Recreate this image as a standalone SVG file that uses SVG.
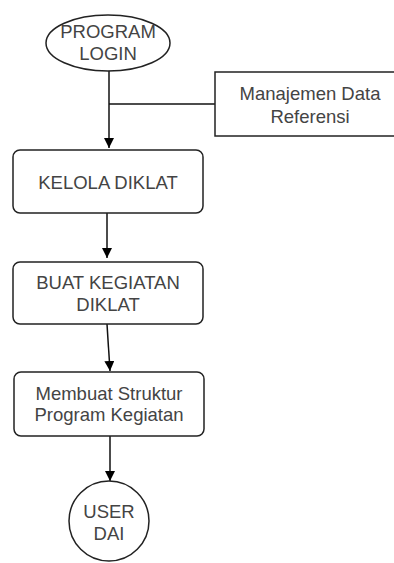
<svg xmlns="http://www.w3.org/2000/svg" width="394" height="563" viewBox="0 0 394 563">
<defs>
<marker id="arr" viewBox="0 0 10 10" refX="10" refY="5" markerWidth="10" markerHeight="10" markerUnits="userSpaceOnUse" orient="auto">
<path d="M0,0 L10,5 L0,10 z" fill="#000"/>
</marker>
<style>
.shape{fill:#fff;stroke:#222;stroke-width:1.5}
.t{font-family:"Liberation Sans",Arial,sans-serif;font-size:18.5px;fill:#444;text-anchor:middle}
.c{fill:none;stroke:#111;stroke-width:1.5}
</style>
</defs>
<rect width="394" height="563" fill="#fff"/>
<g id="connectors">
<path class="c" d="M109,71 V148" marker-end="url(#arr)"/>
<path class="c" d="M109,104 H215"/>
<path class="c" d="M107,213 V258" marker-end="url(#arr)"/>
<path class="c" d="M107,324 L110,371" marker-end="url(#arr)"/>
<path class="c" d="M110,436 V481" marker-end="url(#arr)"/>
</g>
<g id="program-login">
<ellipse class="shape" cx="108" cy="43" rx="62" ry="28"/>
<text class="t" x="108" y="38">PROGRAM</text>
<text class="t" x="108" y="60">LOGIN</text>
</g>
<g id="manajemen-data">
<rect class="shape" x="215" y="72" width="185" height="64"/>
<text class="t" x="310" y="100">Manajemen Data</text>
<text class="t" x="310" y="123">Referensi</text>
</g>
<g id="kelola-diklat">
<rect class="shape" x="13" y="150" width="190" height="63" rx="7"/>
<text class="t" x="108" y="189">KELOLA DIKLAT</text>
</g>
<g id="buat-kegiatan">
<rect class="shape" x="13" y="262" width="190" height="62" rx="7"/>
<text class="t" x="108" y="289">BUAT KEGIATAN</text>
<text class="t" x="108" y="311">DIKLAT</text>
</g>
<g id="membuat-struktur">
<rect class="shape" x="14" y="372" width="190" height="64" rx="7"/>
<text class="t" x="109" y="400">Membuat Struktur</text>
<text class="t" x="109" y="421">Program Kegiatan</text>
</g>
<g id="user-dai">
<circle class="shape" cx="109" cy="521" r="40"/>
<text class="t" x="109" y="518">USER</text>
<text class="t" x="109" y="540">DAI</text>
</g>
</svg>
